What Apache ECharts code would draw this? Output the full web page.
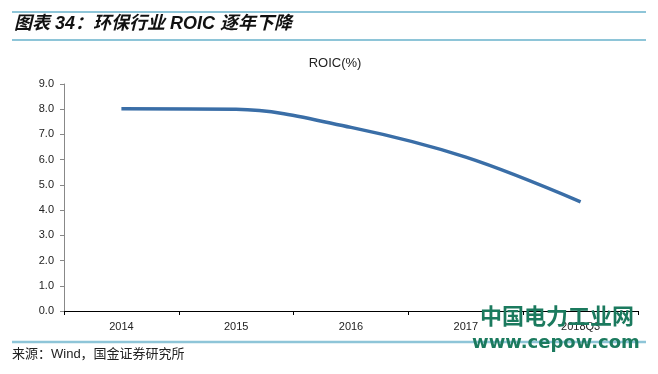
<!DOCTYPE html>
<html>
<head>
<meta charset="utf-8">
<script src="https://cdn.jsdelivr.net/npm/echarts@6/dist/echarts.min.js"></script>
<style>
html,body{margin:0;padding:0;background:#fff;}
#c{width:658px;height:374px;}
</style>
</head>
<body>
<div id="c"></div>
<script>
var categories = ['2014', '2015', '2016', '2017', '2018Q3'];
var roicValues = [8.02, 8.0, 7.28, 6.1, 4.33];
var yTicks = { min: 0, max: 9, interval: 1 };

var chart = echarts.init(document.getElementById('c'), null, { renderer: 'canvas' });
var cjk = '"Liberation Sans", Arial, "Noto Sans CJK SC", sans-serif';
var lineColor = '#8ec5d8';
var wmColor = '#1b7a5e';

chart.setOption({
  animation: false,
  backgroundColor: '#ffffff',
  title: {
    text: 'ROIC(%)',
    left: 330,
    textAlign: 'center',
    top: 52,
    textStyle: { fontFamily: '"Liberation Sans", Arial, sans-serif', fontSize: 13, fontWeight: 'normal', color: '#222' }
  },
  grid: { left: 64, right: 20, top: 84, bottom: 63, containLabel: false },
  xAxis: {
    type: 'category',
    data: categories,
    boundaryGap: true,
    axisLine: { lineStyle: { color: '#000', width: 1 } },
    axisTick: { show: true, length: 4, lineStyle: { color: '#000' } },
    axisLabel: { color: '#222', fontSize: 11, margin: 10, fontFamily: '"Liberation Sans", Arial, sans-serif' },
    splitLine: { show: false }
  },
  yAxis: {
    type: 'value',
    min: yTicks.min,
    max: yTicks.max,
    interval: yTicks.interval,
    axisLine: { show: true, lineStyle: { color: '#888', width: 1 } },
    axisTick: { show: true, length: 4, lineStyle: { color: '#888' } },
    axisLabel: { color: '#222', fontSize: 11, margin: 10, fontFamily: '"Liberation Sans", Arial, sans-serif', formatter: function (v) { return v.toFixed(1); } },
    splitLine: { show: false }
  },
  series: [{
    type: 'line',
    data: roicValues,
    smooth: 0.35,
    symbol: 'none',
    lineStyle: { color: '#3a6ea7', width: 3.5 },
    z: 2
  }],
  graphic: [
    { type: 'line', shape: { x1: 12, y1: 12, x2: 646, y2: 12 }, style: { stroke: lineColor, lineWidth: 2 } },
    { type: 'line', shape: { x1: 12, y1: 40, x2: 646, y2: 40 }, style: { stroke: lineColor, lineWidth: 2 } },
    { type: 'text', left: 14, top: 15, style: { text: '图表 34：环保行业 ROIC 逐年下降', font: 'italic bold 18px ' + cjk, fill: '#111' } },
    { type: 'line', shape: { x1: 12, y1: 342, x2: 646, y2: 342 }, style: { stroke: lineColor, lineWidth: 2.5 } },
    { type: 'text', left: 12, top: 348, style: { text: '来源：Wind，国金证券研究所', font: '13px ' + cjk, fill: '#222' } },
    { type: 'text', left: 480, top: 305, z: 10, style: { text: '中国电力工业网', font: 'bold 22px "Noto Sans CJK SC", sans-serif', fill: wmColor } },
    { type: 'text', left: 472, top: 334, z: 10, style: { text: 'www.cepow.com', font: 'bold 18px "DejaVu Sans", sans-serif', fill: wmColor } }
  ]
});
</script>
</body>
</html>
